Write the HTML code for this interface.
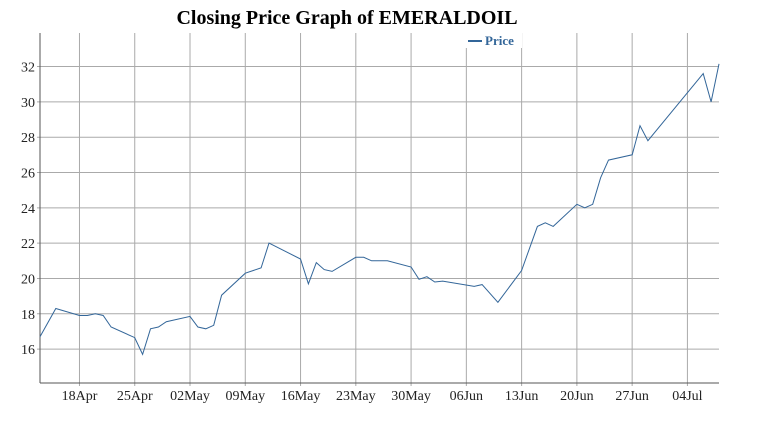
<!DOCTYPE html>
<html><head><meta charset="utf-8"><style>
body{margin:0;background:#fff;}
svg text{font-family:"Liberation Serif",serif;}
</style></head><body>
<svg id="chart" width="767" height="426" xmlns="http://www.w3.org/2000/svg">
<text x="347" y="24" text-anchor="middle" font-size="20" font-weight="bold">Closing Price Graph of EMERALDOIL</text>
<g id="grid"></g><g id="axes"></g><g id="series"></g>
<g>
<rect x="462" y="33" width="60" height="15" fill="#fff"/>
<line x1="468" y1="41" x2="482" y2="41" stroke="#336699" stroke-width="2"/>
<text x="485" y="45" font-size="13" font-weight="bold" fill="#336699">Price</text>
</g>
</svg>
<script>
const days=[0,2,5,6,7,8,9,12,13,14,15,16,19,20,21,22,23,26,28,29,33,34,35,36,37,40,41,42,44,47,48,49,50,51,55,56,58,61,62,63,64,65,68,69,70,71,72,75,76,77,84,85,86];
const prices=[16.7,18.3,17.9,17.9,18.0,17.9,17.25,16.65,15.7,17.15,17.25,17.55,17.85,17.25,17.15,17.35,19.05,20.3,20.6,22.0,21.1,19.7,20.9,20.5,20.4,21.2,21.2,21.0,21.0,20.65,19.95,20.1,19.8,19.85,19.55,19.65,18.65,20.45,21.7,22.95,23.15,22.95,24.2,24.0,24.2,25.7,26.7,27.0,28.65,27.8,31.6,30.0,32.15];
const yTicks=[16,18,20,22,24,26,28,30,32];
const xTickDays=[5,12,19,26,33,40,47,54,61,68,75,82];
const xTickLabels=["18Apr","25Apr","02May","09May","16May","23May","30May","06Jun","13Jun","20Jun","27Jun","04Jul"];
const L=40,R=719,T=33,B=383,dMax=86,vMin=14.08,vMax=33.9;
const xs=d=>L+(d/dMax)*(R-L);
const ys=v=>B-(v-vMin)/(vMax-vMin)*(B-T);
const NS="http://www.w3.org/2000/svg";
const grid=document.getElementById('grid'),axes=document.getElementById('axes'),series=document.getElementById('series');
function mk(t,a,p){const e=document.createElementNS(NS,t);for(const k in a)e.setAttribute(k,a[k]);p.appendChild(e);return e;}
yTicks.forEach(v=>{
 const y=ys(v);
 const g=mk('line',{x1:L-3,y1:y,x2:R,y2:y,stroke:'#aaa','stroke-width':1},grid);
 
 
 const t=mk('text',{x:L-5,y:y+5,'text-anchor':'end','font-size':14,fill:'#222'},axes);
 t.textContent=v;
 
 
});
xTickDays.forEach((d,i)=>{
 const x=xs(d);
 const g=mk('line',{x1:x,y1:T,x2:x,y2:B+3,stroke:'#aaa','stroke-width':1},grid);
 
 
 const t=mk('text',{x:x,y:B+17,'text-anchor':'middle','font-size':14,fill:'#222'},axes);
 t.textContent=xTickLabels[i];
 
 
});
const ya=mk('line',{x1:L,y1:T,x2:L,y2:B,stroke:'#555','stroke-width':1},axes);


const xa=mk('line',{x1:L,y1:B,x2:R,y2:B,stroke:'#555','stroke-width':1},axes);


const pts=days.map((d,i)=>xs(d).toFixed(1)+','+ys(prices[i]).toFixed(1)).join(' ');
const pl=mk('polyline',{points:pts,fill:'none',stroke:'#336699','stroke-width':1},series);


</script>
</body></html>
